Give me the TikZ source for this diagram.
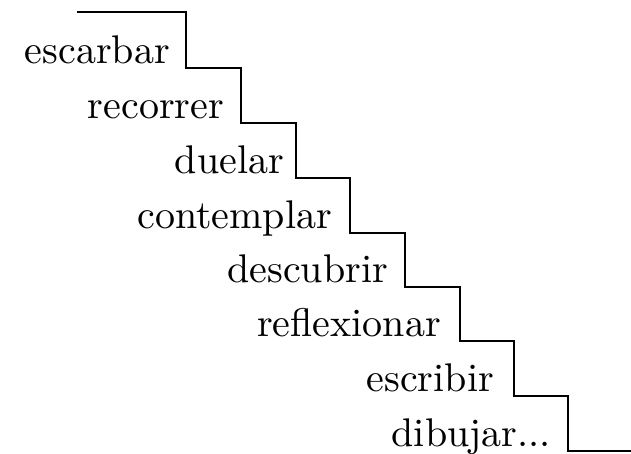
\documentclass[tikz,border=0pt]{standalone}
\usepackage{fontspec}
\setmainfont{lmroman10-regular.otf}

\begin{document}
\begin{tikzpicture}[x=1pt, y=-1pt,
		palabra/.style={anchor=base east, inner sep=0pt, font=\fontsize{40}{46}\selectfont}]
		\useasboundingbox (0,0) rectangle (631,453);

		% the stairs
		\draw[line width=1.8pt, line join=miter]
			(77,12) -- (186,12) -- (186,68)
			-- (241,68) -- (241,123)
			-- (296,123) -- (296,178)
			-- (350,178) -- (350,233)
			-- (405,233) -- (405,287)
			-- (460,287) -- (460,341)
			-- (514,341) -- (514,396)
			-- (568,396) -- (568,451) -- (631,451);

		\node[palabra] (escarbar) at (170,63) {escarbar};
		\node[palabra] (recorrer) at (224,118) {recorrer};
		\node[palabra] (duelar) at (284,173) {duelar};
		\node[palabra] (contemplar) at (332,228) {contemplar};
		\node[palabra] (descubrir) at (388,282) {descubrir};
		\node[palabra] (reflexionar) at (441,336) {reflexionar};
		\node[palabra] (escribir) at (494,391) {escribir};
		\node[palabra] (dibujar) at (551,446) {dibujar...};
	\end{tikzpicture}
\end{document}
